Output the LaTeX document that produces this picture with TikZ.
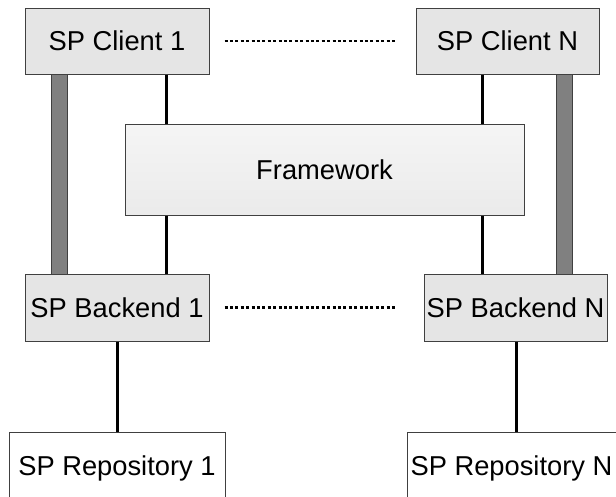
\documentclass[tikz,border=0pt]{standalone}
\usepackage{fontspec}
\setmainfont{Liberation Sans}
\definecolor{boxline}{HTML}{404040}
\definecolor{boxfill}{HTML}{E5E5E5}
\definecolor{barfill}{HTML}{808080}
\begin{document}
\begin{tikzpicture}[x=1pt,y=-1pt,
  every node/.style={font=\fontsize{27.3}{32}\selectfont, inner sep=0pt},
  spbox/.style={draw=boxline, line width=1pt, fill=boxfill, minimum height=66pt},
  repobox/.style={draw=boxline, line width=1pt, fill=white, minimum height=72pt},
  fwbox/.style={draw=boxline, line width=1pt, top color=black!4, middle color=white, bottom color=black!8,
    minimum width=399pt, minimum height=91pt},
  link/.style={line width=3pt, black},
  bar/.style={draw=boxline, line width=0.8pt, double=barfill, double distance=15.4pt},
  peer/.style={line width=2.5pt, dash pattern=on 3pt off 2.4pt}]
\useasboundingbox (0,0) rectangle (616,496);
\clip (0,0) rectangle (616,496);
\fill[white] (0,0) rectangle (616,496);

% component boxes
\node[spbox, minimum width=184pt] (c1) at (117,41) {SP Client 1};
\node[spbox, minimum width=183pt] (cN) at (507.5,41) {SP Client N};
\node[fwbox] (fw) at (324.5,169.5) {Framework};
\node[spbox, minimum width=184pt, minimum height=67pt] (b1) at (117,307.5) {SP Backend 1};
\node[spbox, minimum width=183pt, minimum height=67pt] (bN) at (515.5,307.5) {SP Backend N};
\node[repobox, minimum width=216pt] (r1) at (117,468) {SP Repository 1};
\node[repobox, minimum width=218pt] (rN) at (516,468) {SP Repository N\hspace*{9pt}};

% vertical positions of the links
\coordinate (g1) at (59.5,0);
\coordinate (gN) at (564.5,0);
\coordinate (k1) at (166.5,0);
\coordinate (kN) at (482.5,0);

% direct client/backend channels
\draw[bar] (c1.south -| g1) -- (b1.north -| g1);
\draw[bar] (cN.south -| gN) -- (bN.north -| gN);

% links through the framework
\draw[link] (c1.south -| k1) -- (fw.north -| k1);
\draw[link] (fw.south -| k1) -- (b1.north -| k1);
\draw[link] (cN.south -| kN) -- (fw.north -| kN);
\draw[link] (fw.south -| kN) -- (bN.north -| kN);

% backends to repositories
\draw[link] (b1.south) -- (r1.north);
\draw[link] (bN.south -| rN.north) -- (rN.north);

% peers in between
\draw[peer] ([xshift=15pt]c1.east) -- ([xshift=-19pt]cN.west);
\draw[peer] ([xshift=15pt]b1.east) -- ([xshift=-27pt]bN.west);
\end{tikzpicture}
\end{document}
